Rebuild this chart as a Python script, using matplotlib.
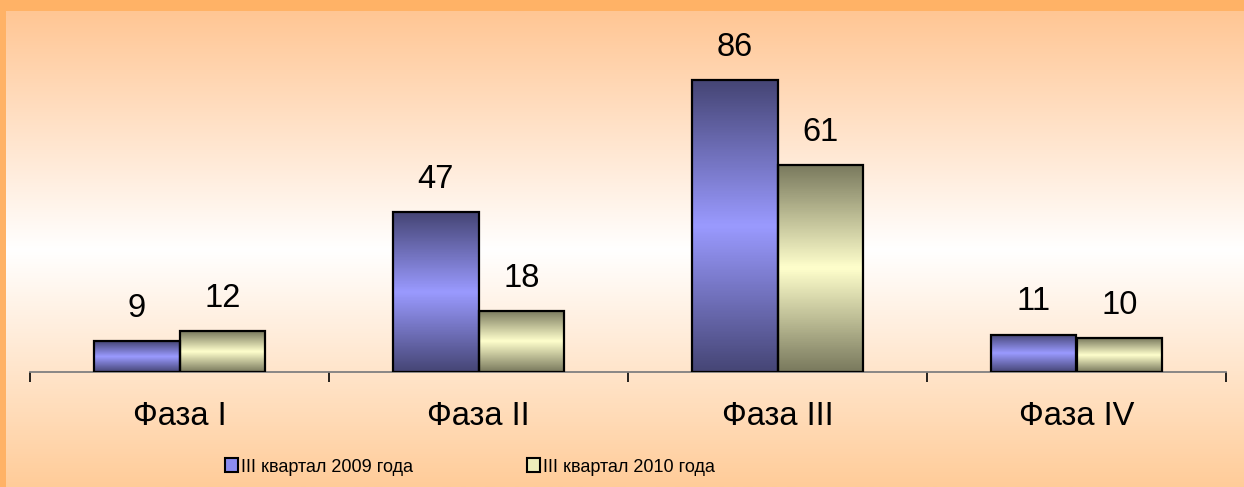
import numpy as np
import matplotlib
matplotlib.use('Agg')
import matplotlib.pyplot as plt
from matplotlib.colors import LinearSegmentedColormap
from matplotlib.patches import Rectangle

plt.rcParams['font.family'] = ['Liberation Sans', 'DejaVu Sans']

# Data
phases = ['Фаза I', 'Фаза II', 'Фаза III', 'Фаза IV']
q3_2009 = [9, 47, 86, 11]
q3_2010 = [12, 18, 61, 10]
series_names = ['III квартал 2009 года', 'III квартал 2010 года']

W, H = 1244, 487
fig = plt.figure(figsize=(W / 100, H / 100), dpi=100)

# Page background: orange frame + vertical gradient
bg = fig.add_axes([0, 0, 1, 1], zorder=-10)
bg.set_axis_off()
bg.set_xlim(0, W)
bg.set_ylim(H, 0)
ys = np.linspace(11, H, 300)
top_c = np.array([255, 198, 148]) / 255
mid_c = np.array([255, 255, 255]) / 255
bot_c = np.array([255, 204, 153]) / 255
t = np.clip((ys - 11) / (250 - 11), 0, 1)[:, None]
upper = top_c + (mid_c - top_c) * t
t2 = np.clip((ys - 250) / (H - 250), 0, 1)[:, None]
lower = mid_c + (bot_c - mid_c) * t2
grad = np.where((ys < 250)[:, None], upper, lower)
bg.imshow(grad[:, None, :], extent=[0, W, H, 11], aspect='auto')
bg.add_patch(Rectangle((0, 0), W, 11, color='#ffb266', lw=0))
bg.add_patch(Rectangle((0, 0), 6, H, color='#ffb266', lw=0))

# Plot area
ax = fig.add_axes([30 / W, 115 / H, 1196 / W, 339.5 / H])
ax.patch.set_alpha(0)
for s in ['top', 'right', 'left']:
    ax.spines[s].set_visible(False)
ax.spines['bottom'].set_color('#808080')
ax.spines['bottom'].set_linewidth(1.3)

x = np.arange(len(phases))
w = 0.2876
blue_cmap = LinearSegmentedColormap.from_list('b', ['#464676', '#9a9aff', '#464676'])
yel_cmap = LinearSegmentedColormap.from_list('y', ['#7a7a5e', '#ffffcc', '#7a7a5e'])

for vals, off, cmap in [(q3_2009, -w / 2, blue_cmap), (q3_2010, w / 2, yel_cmap)]:
    bars = ax.bar(x + off, vals, width=w, facecolor='none', edgecolor='black',
                  linewidth=1.6, zorder=3)
    for b, v in zip(bars, vals):
        g = np.linspace(0, 1, 100)[:, None]
        ax.imshow(g, cmap=cmap, aspect='auto', zorder=2,
                  extent=[b.get_x(), b.get_x() + b.get_width(), 0, b.get_height()])
        ax.annotate(str(v), (b.get_x() + b.get_width() / 2, b.get_height()),
                    xytext=(0, 12.5), textcoords='offset points',
                    ha='center', va='bottom', fontsize=23.5)

ax.set_xlim(-0.5, len(phases) - 0.5)
ax.set_ylim(0, 100)
ax.set_yticks([])
ax.set_xticks(x)
ax.set_xticklabels(phases, fontsize=23.5)
ax.tick_params(axis='x', which='major', length=0, pad=21)
ax.set_xticks(np.arange(len(phases) + 1) - 0.5, minor=True)
ax.tick_params(axis='x', which='minor', length=7.5, width=1.2, color='black', direction='out')

# Legend
handles = [Rectangle((0, 0), 1, 1, facecolor='#8c8cf0', edgecolor='black', lw=1.5),
           Rectangle((0, 0), 1, 1, facecolor='#eeeebb', edgecolor='black', lw=1.5)]
leg = fig.legend(handles, series_names, loc='center', bbox_to_anchor=(470 / W, 1 - 467 / H),
                 ncol=2, frameon=False, handlelength=0.7, handleheight=0.8,
                 handletextpad=0.2, columnspacing=6.3,
                 prop={'size': 13})

fig.savefig('out.png', dpi=100)
